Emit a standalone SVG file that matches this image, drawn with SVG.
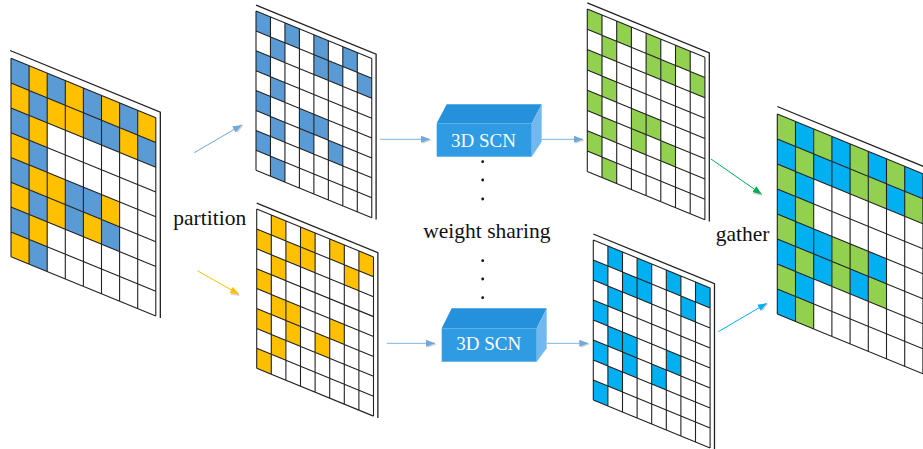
<svg xmlns="http://www.w3.org/2000/svg" xmlns:xlink="http://www.w3.org/1999/xlink" width="923" height="449" viewBox="0 0 923 449">
<style>
.gl{fill:none;stroke:#222;stroke-width:1.1;vector-effect:non-scaling-stroke}
.bk{fill:none;stroke:#222;stroke-width:1.3;vector-effect:non-scaling-stroke}
.lbl{font-family:"Liberation Serif","Times New Roman",serif;font-size:21.5px;fill:#111}
.bx{font-family:"Liberation Serif","Times New Roman",serif;font-size:19px;fill:#fff;text-anchor:middle}
.front{fill:#2E9BE3}.top{fill:#2590DB}.side{fill:#72B8F0}
.ar{fill:none;stroke-width:1}
</style>
<defs>
<path id="lines" class="gl" d="M0 0H8M0 1H8M0 2H8M0 3H8M0 4H8M0 5H8M0 6H8M0 7H8M0 8H8M0 0V8M1 0V8M2 0V8M3 0V8M4 0V8M5 0V8M6 0V8M7 0V8M8 0V8"/>
<path id="back" class="bk" d="M0 -0.3H8.3V8"/>
<g id="setB">
<rect x="0" y="0" width="1" height="1"/><rect x="2" y="0" width="1" height="1"/><rect x="4" y="0" width="1" height="1"/><rect x="6" y="0" width="1" height="1"/>
<rect x="1" y="1" width="1" height="1"/><rect x="4" y="1" width="1" height="1"/><rect x="5" y="1" width="1" height="1"/><rect x="7" y="1" width="1" height="1"/>
<rect x="0" y="2" width="1" height="1"/><rect x="1" y="3" width="1" height="1"/>
<rect x="0" y="4" width="1" height="1"/><rect x="3" y="4" width="1" height="1"/><rect x="4" y="4" width="1" height="1"/>
<rect x="1" y="5" width="1" height="1"/><rect x="3" y="5" width="1" height="1"/><rect x="5" y="5" width="1" height="1"/>
<rect x="0" y="6" width="1" height="1"/><rect x="1" y="7" width="1" height="1"/>
</g>
<g id="setY">
<rect x="1" y="0" width="1" height="1"/><rect x="3" y="0" width="1" height="1"/><rect x="5" y="0" width="1" height="1"/><rect x="7" y="0" width="1" height="1"/>
<rect x="0" y="1" width="1" height="1"/><rect x="2" y="1" width="1" height="1"/><rect x="3" y="1" width="1" height="1"/><rect x="6" y="1" width="1" height="1"/>
<rect x="1" y="2" width="1" height="1"/><rect x="0" y="3" width="1" height="1"/>
<rect x="1" y="4" width="1" height="1"/><rect x="2" y="4" width="1" height="1"/><rect x="5" y="4" width="1" height="1"/>
<rect x="0" y="5" width="1" height="1"/><rect x="2" y="5" width="1" height="1"/><rect x="4" y="5" width="1" height="1"/>
<rect x="1" y="6" width="1" height="1"/><rect x="0" y="7" width="1" height="1"/>
</g>
<marker id="mBlue" markerUnits="userSpaceOnUse" markerWidth="12" markerHeight="10" refX="9" refY="4" orient="auto"><path d="M1.5 1.5L10.5 5L1.5 8.5z" fill="#999" opacity="0.45"/><path d="M0 0.5L9 4L0 7.5z" fill="#6FA8DC"/></marker>
<marker id="mYel" markerUnits="userSpaceOnUse" markerWidth="12" markerHeight="10" refX="9" refY="4" orient="auto"><path d="M1.5 1.5L10.5 5L1.5 8.5z" fill="#999" opacity="0.45"/><path d="M0 0.5L9 4L0 7.5z" fill="#FFC000"/></marker>
<marker id="mGrn" markerUnits="userSpaceOnUse" markerWidth="12" markerHeight="10" refX="9" refY="4" orient="auto"><path d="M1.5 1.5L10.5 5L1.5 8.5z" fill="#999" opacity="0.45"/><path d="M0 0.5L9 4L0 7.5z" fill="#00B050"/></marker>
<marker id="mCyn" markerUnits="userSpaceOnUse" markerWidth="12" markerHeight="10" refX="9" refY="4" orient="auto"><path d="M1.5 1.5L10.5 5L1.5 8.5z" fill="#999" opacity="0.45"/><path d="M0 0.5L9 4L0 7.5z" fill="#00B0F0"/></marker>
</defs>
<rect width="923" height="449" fill="#fff"/>

<g id="input-grid" transform="matrix(18.1,7.42,0,24.8,11,58.3)">
<use xlink:href="#back" transform="translate(-0.05,0)"/>
<rect x="0" y="0" width="8" height="8" fill="#fff"/>
<use xlink:href="#setB" fill="#5B9BD5"/>
<use xlink:href="#setY" fill="#FFC000"/>
<use xlink:href="#lines"/>
</g>

<g id="partition-blue" transform="matrix(14.47,5.93,0,19.9,256,11)">
<use xlink:href="#back"/>
<rect x="0" y="0" width="8" height="8" fill="#fff"/>
<use xlink:href="#setB" fill="#5B9BD5"/>
<use xlink:href="#lines"/>
</g>

<g id="partition-yellow" transform="matrix(14.6,5.99,0,19.9,256.7,209)">
<use xlink:href="#back"/>
<rect x="0" y="0" width="8" height="8" fill="#fff"/>
<use xlink:href="#setY" fill="#FFC000"/>
<use xlink:href="#lines"/>
</g>

<g id="output-green" transform="matrix(14.7,6.03,0,20.3,587.3,9)">
<use xlink:href="#back"/>
<rect x="0" y="0" width="8" height="8" fill="#fff"/>
<use xlink:href="#setB" fill="#92D050"/>
<use xlink:href="#lines"/>
</g>

<g id="output-cyan" transform="matrix(14.6,5.99,0,20,593.3,240)">
<use xlink:href="#back"/>
<rect x="0" y="0" width="8" height="8" fill="#fff"/>
<use xlink:href="#setY" fill="#00B0F0"/>
<use xlink:href="#lines"/>
</g>

<g id="gathered-grid" transform="matrix(18.2,7.46,0,25,777.3,114)">
<use xlink:href="#back"/>
<rect x="0" y="0" width="8" height="8" fill="#fff"/>
<use xlink:href="#setB" fill="#92D050"/>
<use xlink:href="#setY" fill="#00B0F0"/>
<use xlink:href="#lines"/>
</g>

<g id="scn-top">
<polygon class="top" points="436.7,123.3 446.7,104.3 541.7,104.3 531.7,123.3"/>
<polygon class="side" points="531.7,123.3 541.7,104.3 541.7,141.7 531.7,156.7"/>
<rect class="front" x="436.7" y="123.3" width="95" height="33.4"/>
<text class="bx" x="483.5" y="146.7">3D SCN</text>
</g>

<g id="scn-bottom">
<polygon class="top" points="441.7,328.3 451.7,308.3 546.7,308.3 536.7,328.3"/>
<polygon class="side" points="536.7,328.3 546.7,308.3 546.7,348.3 536.7,361.7"/>
<rect class="front" x="441.7" y="328.3" width="95" height="33.4"/>
<text class="bx" x="488.8" y="350">3D SCN</text>
</g>

<g id="labels">
<text class="lbl" x="173.3" y="225">partition</text>
<text class="lbl" x="423.3" y="238">weight sharing</text>
<text class="lbl" x="715.7" y="240.5">gather</text>
<g fill="#111">
<circle cx="482.7" cy="161.7" r="1.4"/><circle cx="482.7" cy="180" r="1.4"/><circle cx="482.7" cy="199" r="1.4"/>
<circle cx="482.7" cy="260.7" r="1.4"/><circle cx="482.7" cy="279" r="1.4"/><circle cx="482.7" cy="297.7" r="1.4"/>
</g>
</g>

<g id="connectors" class="ar">
<line x1="194.3" y1="152.7" x2="241.7" y2="125" stroke="#6FA8DC" marker-end="url(#mBlue)"/>
<line x1="197.3" y1="270.7" x2="239" y2="294.3" stroke="#FFC000" marker-end="url(#mYel)"/>
<line x1="380" y1="139.3" x2="430" y2="139.3" stroke="#7DB3E8" marker-end="url(#mBlue)"/>
<line x1="541.7" y1="139.3" x2="583" y2="139.3" stroke="#7DB3E8" marker-end="url(#mBlue)"/>
<line x1="386.7" y1="343.3" x2="435" y2="343.3" stroke="#7DB3E8" marker-end="url(#mBlue)"/>
<line x1="546.7" y1="343.3" x2="588.3" y2="343.3" stroke="#7DB3E8" marker-end="url(#mBlue)"/>
<line x1="711" y1="159" x2="761.7" y2="194.3" stroke="#00B050" marker-end="url(#mGrn)"/>
<line x1="718.3" y1="331.7" x2="766.7" y2="303.3" stroke="#00B0F0" marker-end="url(#mCyn)"/>
</g>
</svg>
